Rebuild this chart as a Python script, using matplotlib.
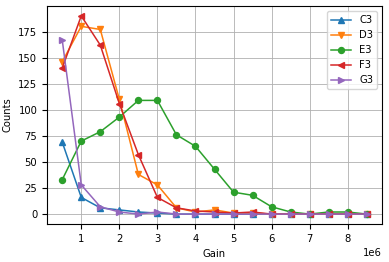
import numpy as np
import matplotlib.pyplot as plt

gain = np.arange(1, 18) * 0.5e6

C3 = [69, 16, 6, 4, 2, 1, 0, 0, 0, 0, 0, 0, 0, 0, 0, 0, 0]
D3 = [146, 180, 177, 110, 38, 28, 6, 2, 4, 1, 1, 0, 0, 0, 0, 0, 0]
E3 = [33, 70, 79, 93, 109, 109, 76, 65, 43, 21, 18, 7, 2, 0, 2, 2, 0]
F3 = [140, 190, 162, 106, 57, 16, 6, 3, 2, 1, 2, 0, 0, 0, 0, 0, 0]
G3 = [167, 28, 7, 2, 0, 2, 0, 0, 0, 0, 0, 0, 0, 0, 0, 0, 0]

plt.rcParams['font.size'] = 7.2

fig = plt.figure(figsize=(3.89, 2.62), dpi=100)
ax = fig.add_axes([47/389, 1 - 224/262, 335/389, 218/262])

ms = 4.3
lw = 1.1
ax.plot(gain, C3, marker='^', ms=ms, lw=lw, label='C3')
ax.plot(gain, D3, marker='v', ms=ms, lw=lw, label='D3')
ax.plot(gain, E3, marker='o', ms=ms, lw=lw, label='E3')
ax.plot(gain, F3, marker='<', ms=ms, lw=lw, label='F3')
ax.plot(gain, G3, marker='>', ms=ms, lw=lw, label='G3')

ax.grid(True, lw=0.6)
ax.set_xlabel('Gain')
ax.set_ylabel('Counts')
ax.legend(loc='upper right')

fig.savefig('out.png', dpi=100)
